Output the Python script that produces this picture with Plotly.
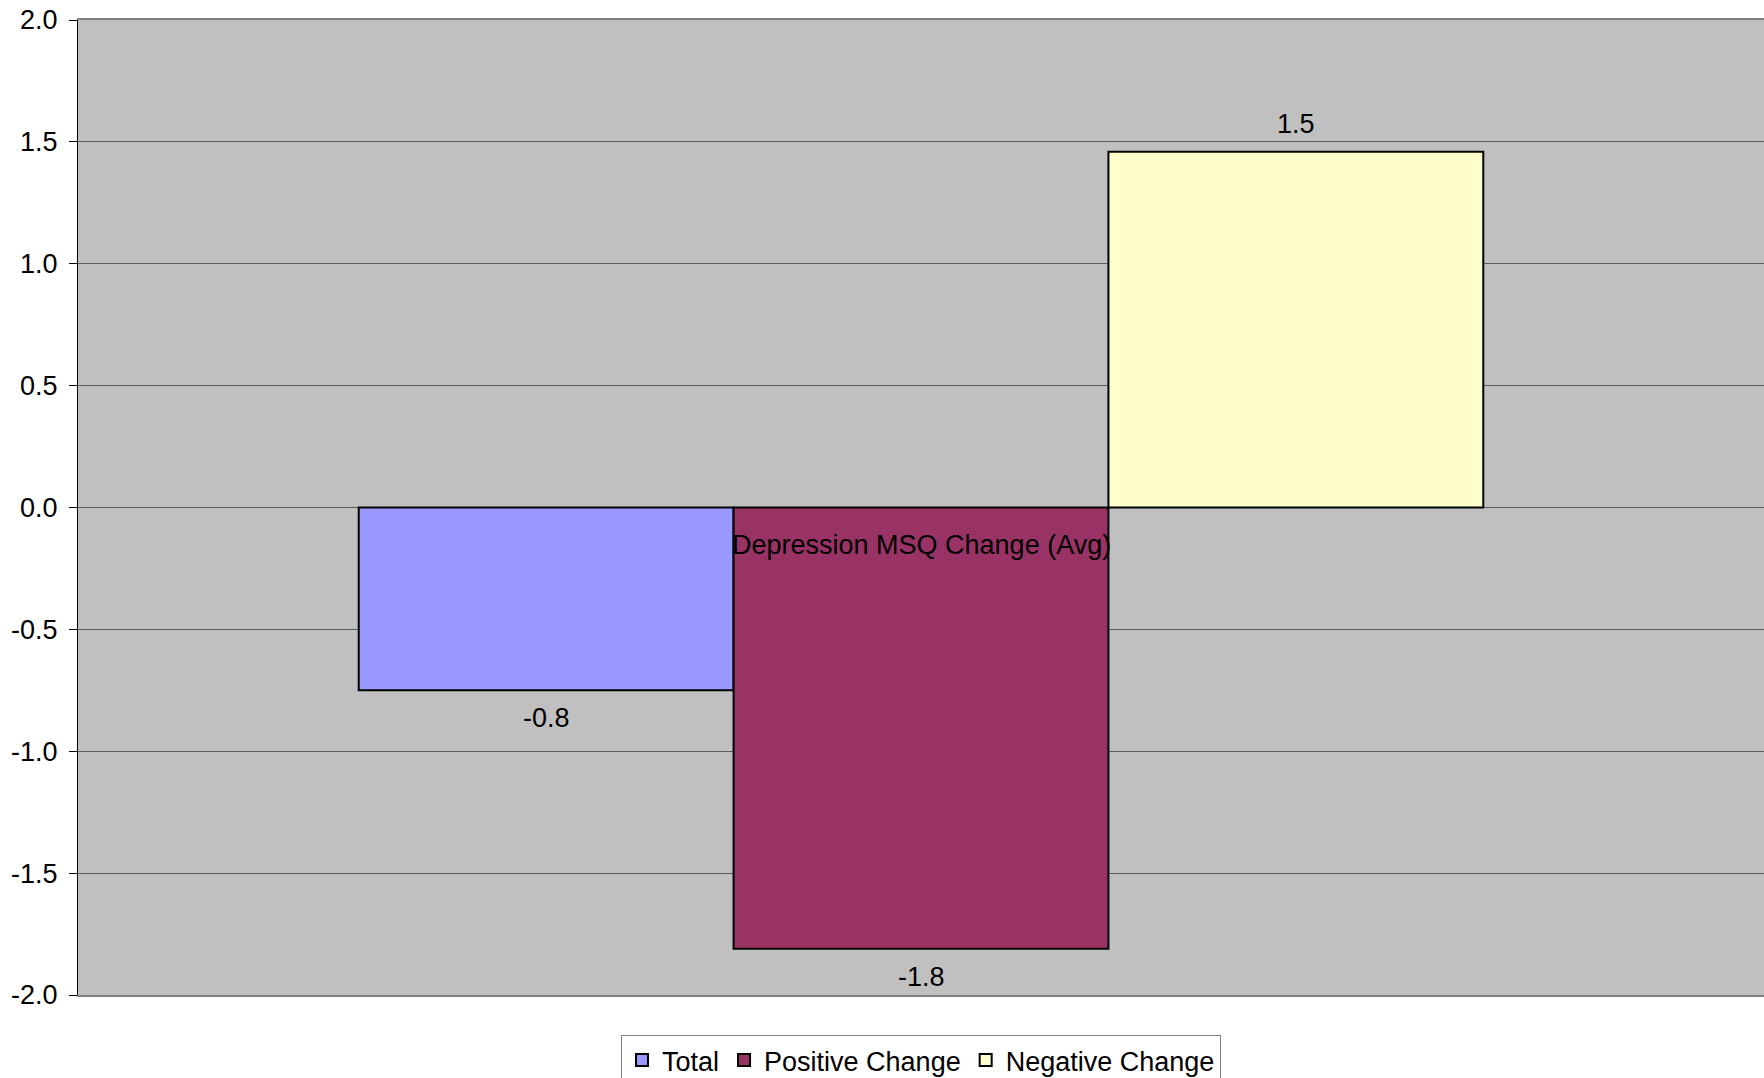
import plotly.graph_objects as go

category = ["Depression MSQ Change (Avg)"]
series_names = ["Total", "Positive Change", "Negative Change"]
series_values = [-0.75, -1.81, 1.46]
series_colors = ["#9999FF", "#993366", "#FFFFCC"]
tick_values = [-2.0, -1.5, -1.0, -0.5, 0.0, 0.5, 1.0, 1.5, 2.0]
tick_labels = ["-2.0", "-1.5", "-1.0", "-0.5", "0.0", "0.5", "1.0", "1.5", "2.0"]

FONT = "Arial, Liberation Sans, sans-serif"
FS = 27
W, H = 1764, 1078
ML, MR, MT, MB = 78, 0, 20, 83
BARGAP = 0.333

fig = go.Figure()
for name, val, col in zip(series_names, series_values, series_colors):
    fig.add_trace(go.Bar(
        x=category, y=[val], name=name,
        marker=dict(color=col, line=dict(color="black", width=2)),
        cliponaxis=False,
    ))

# value labels above / below each bar
plot_w = W - ML - MR
bar_w = plot_w * (1 - BARGAP) / len(series_values)
for i, val in enumerate(series_values):
    fig.add_annotation(
        x=category[0], y=val, xref="x", yref="y",
        xshift=(i - (len(series_values) - 1) / 2) * bar_w,
        yshift=28 if val >= 0 else -28,
        yanchor="middle", text=f"{val:.1f}", showarrow=False,
        font=dict(family=FONT, size=FS, color="black"),
    )

fig.update_layout(
    width=W, height=H,
    margin=dict(l=ML, r=MR, t=MT, b=MB, autoexpand=False),
    paper_bgcolor="white", plot_bgcolor="#C0C0C0",
    barmode="group", bargap=BARGAP, bargroupgap=0,
    font=dict(family=FONT, size=FS, color="black"),
    showlegend=True,
    legend=dict(orientation="h", x=0.5, xanchor="center", y=-0.041, yanchor="top",
                bordercolor="#808080", borderwidth=1, bgcolor="white",
                font=dict(family=FONT, size=FS, color="black"),
                itemwidth=30, tracegroupgap=0),
    xaxis=dict(type="category", showticklabels=False, showgrid=False, zeroline=False,
               showline=True, linecolor="#808080", linewidth=2, mirror=True, ticks="",
               automargin=False),
    yaxis=dict(range=[-2.0, 2.0], tickvals=tick_values, ticktext=tick_labels,
               showgrid=True, gridcolor="#5a5a5a", gridwidth=1,
               zeroline=True, zerolinecolor="#5a5a5a", zerolinewidth=1,
               showline=True, linecolor="black", linewidth=1,
               ticks="outside", ticklen=8, tickcolor="black",
               ticklabelstandoff=6,
               automargin=False,
               tickfont=dict(family=FONT, size=FS, color="black")),
)

fig.add_annotation(
    x=category[0], y=0, xref="x", yref="y", yanchor="top", yshift=-20,
    text=category[0], showarrow=False,
    font=dict(family=FONT, size=FS, color="black"),
)

fig.write_html(
    "out.html",
    config={"displayModeBar": False},
    post_script="document.body.style.margin='0';document.body.style.overflow='hidden';",
)
